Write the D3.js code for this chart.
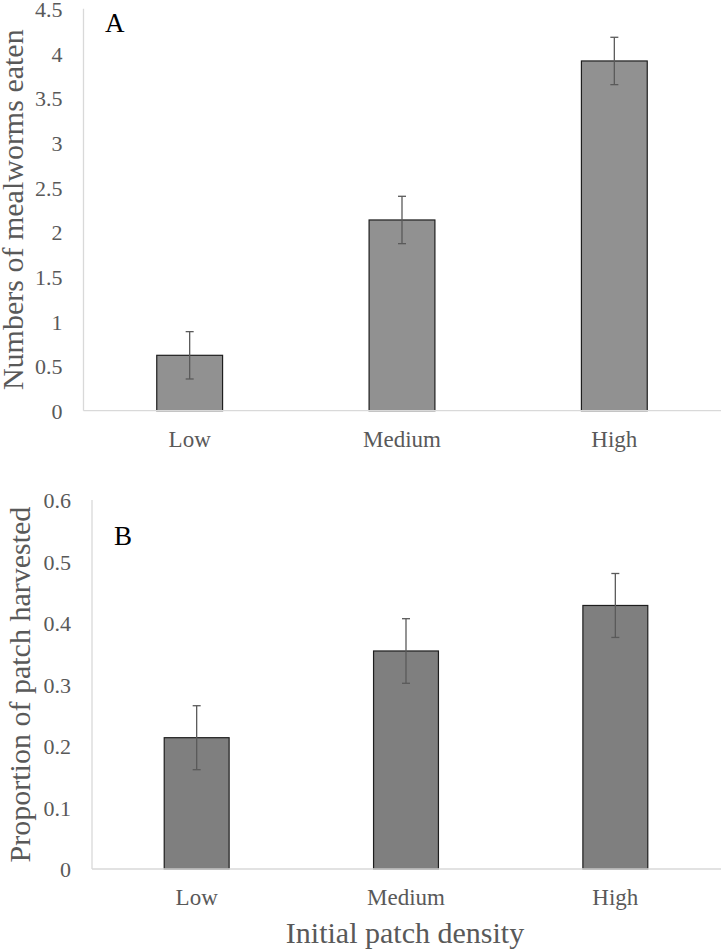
<!DOCTYPE html>
<html>
<head>
<meta charset="utf-8">
<script src="https://cdn.jsdelivr.net/npm/d3@7"></script>
<style>
  html, body { margin: 0; padding: 0; background: #fff; }
  svg { display: block; font-family: "Liberation Serif", "Times New Roman", serif; }
</style>
</head>
<body>
<svg id="chart" width="721" height="950"></svg>
<script>
const categories = ["Low", "Medium", "High"];
const mealwormsMean = [0.62, 2.135, 3.915];
const mealwormsErr = [0.265, 0.265, 0.265];
const proportionMean = [0.2135, 0.3545, 0.4285];
const proportionErr = [0.052, 0.0525, 0.052];
const ticksA = [0, 0.5, 1, 1.5, 2, 2.5, 3, 3.5, 4, 4.5];
const ticksB = [0, 0.1, 0.2, 0.3, 0.4, 0.5, 0.6];

const svg = d3.select("#chart");
const textColor = "#595959";

function panel(opts) {
  const { left, right, top, bottom, max, ticks, fmt, means, errs, fill, title, letter, letterPos, titleX, labelY } = opts;
  const x = d3.scaleBand().domain(categories).range([left, right]).paddingInner(0.69).paddingOuter(0.345);
  const y = d3.scaleLinear().domain([0, max]).range([bottom, top]);
  const g = svg.append("g");

  // y axis line
  g.append("line").attr("x1", left).attr("x2", left).attr("y1", y(max)).attr("y2", y(0))
    .attr("stroke", "#d9d9d9").attr("stroke-width", 1.3);

  // y tick labels
  const yAxis = d3.axisLeft(y).tickValues(ticks).tickFormat(fmt).tickSize(0).tickPadding(0);
  const ya = g.append("g").attr("transform", `translate(${left - 21},0)`).call(yAxis);
  ya.select(".domain").remove();
  ya.selectAll("text").attr("font-size", 22).attr("fill", textColor)
    .attr("font-family", "Liberation Serif, serif").attr("dy", "0.35em");

  // bars
  g.selectAll("rect.bar").data(categories).enter().append("rect")
    .attr("x", d => x(d)).attr("width", x.bandwidth())
    .attr("y", (d, i) => y(means[i])).attr("height", (d, i) => y(0) - y(means[i]))
    .attr("fill", fill).attr("stroke", "#1e1e1e").attr("stroke-width", 1.2);

  // baseline
  g.append("line").attr("x1", left).attr("x2", 721).attr("y1", y(0)).attr("y2", y(0))
    .attr("stroke", "#d9d9d9").attr("stroke-width", 1.3);

  // error bars
  const eb = g.selectAll("g.err").data(categories).enter().append("g")
    .attr("stroke", "#5a5a5a").attr("stroke-width", 1.3);
  eb.append("line")
    .attr("x1", d => x(d) + x.bandwidth() / 2).attr("x2", d => x(d) + x.bandwidth() / 2)
    .attr("y1", (d, i) => y(means[i] + errs[i])).attr("y2", (d, i) => y(means[i] - errs[i]));
  eb.append("line")
    .attr("x1", d => x(d) + x.bandwidth() / 2 - 4).attr("x2", d => x(d) + x.bandwidth() / 2 + 4)
    .attr("y1", (d, i) => y(means[i] + errs[i])).attr("y2", (d, i) => y(means[i] + errs[i]));
  eb.append("line")
    .attr("x1", d => x(d) + x.bandwidth() / 2 - 4).attr("x2", d => x(d) + x.bandwidth() / 2 + 4)
    .attr("y1", (d, i) => y(means[i] - errs[i])).attr("y2", (d, i) => y(means[i] - errs[i]));

  // category labels
  g.selectAll("text.cat").data(categories).enter().append("text")
    .attr("x", d => x(d) + x.bandwidth() / 2).attr("y", labelY)
    .attr("text-anchor", "middle").attr("font-size", 23).attr("fill", textColor)
    .text(d => d);

  // y title
  g.append("text")
    .attr("transform", `translate(${titleX},${(y(max) + y(0)) / 2}) rotate(-90)`)
    .attr("text-anchor", "middle").attr("font-size", 30).attr("fill", textColor)
    .text(title);

  // panel letter
  g.append("text").attr("x", letterPos[0]).attr("y", letterPos[1])
    .attr("font-size", 27).attr("fill", "#000").text(letter);
}

panel({
  left: 83.5, right: 720.5, top: 8.7, bottom: 410.7, max: 4.5, ticks: ticksA,
  fmt: d => d3.format("")(d), means: mealwormsMean, errs: mealwormsErr, fill: "#919191",
  title: "Numbers of mealworms eaten", letter: "A", letterPos: [105, 32], titleX: 23, labelY: 447
});

panel({
  left: 92, right: 720, top: 500, bottom: 869, max: 0.6, ticks: ticksB,
  fmt: d => d3.format("")(d), means: proportionMean, errs: proportionErr, fill: "#7f7f7f",
  title: "Proportion of patch harvested", letter: "B", letterPos: [114, 545], titleX: 30, labelY: 905
});

svg.append("text").attr("x", 405).attr("y", 943).attr("text-anchor", "middle")
  .attr("font-size", 30).attr("fill", textColor).text("Initial patch density");
</script>
</body>
</html>
